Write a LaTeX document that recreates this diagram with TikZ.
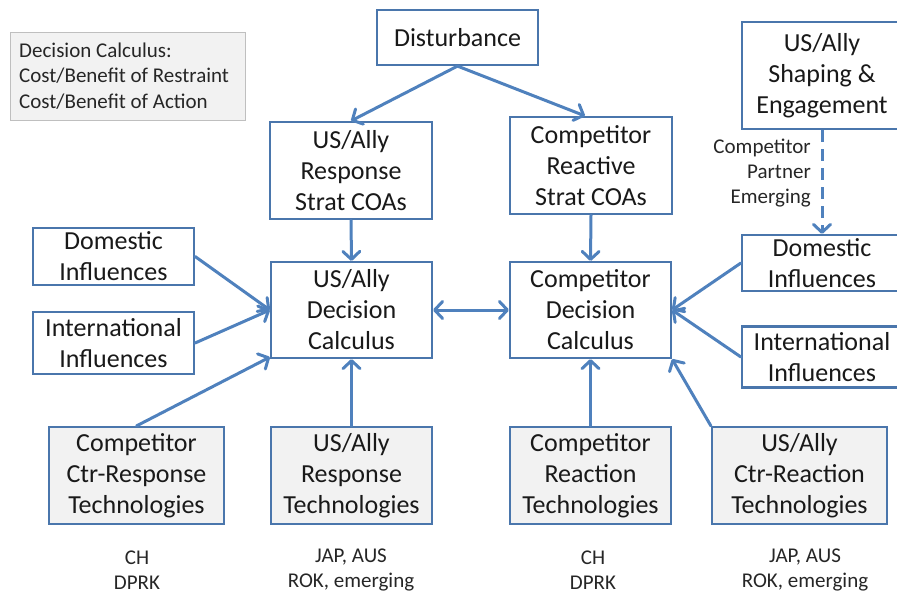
\documentclass[tikz,border=0pt]{standalone}
\usepackage{fontspec}
\setmainfont{Carlito}
\usetikzlibrary{arrows.meta}
\definecolor{boxc}{HTML}{4A76AC}
\definecolor{arrc}{HTML}{4F81BD}
\definecolor{techfill}{HTML}{F2F2F2}
\definecolor{legline}{HTML}{BFBFBF}
\newcommand{\bigtext}{\fontsize{26}{31}\selectfont}
\newcommand{\smalltext}{\fontsize{21}{25.2}\selectfont}
\tikzset{
  box/.style={draw=boxc, line width=2.2, fill=white, align=center,
    inner sep=0, font=\bigtext, text=black!90},
  techbox/.style={box, fill=techfill},
  legbox/.style={draw=legline, line width=1, fill=techfill, inner sep=0,
    font=\smalltext, text=black!85},
  note/.style={inner sep=0, font=\smalltext, align=center, text=black!85},
  arr/.style={draw=arrc, line width=3, line cap=round,
    -{Straight Barb[length=8,width=17,line cap=round,round]}},
  dblarr/.style={arr, {Straight Barb[length=8,width=17,line cap=round,round]}-{Straight Barb[length=8,width=17,line cap=round,round]}}
}
\begin{document}
\begin{tikzpicture}[x=1pt,y=-1pt]
\path[use as bounding box, clip] (0,0) rectangle (897,594);

% legend
\node[legbox, minimum width=235, minimum height=87] (leg) at (127.5,76.5) {};
\node[note, align=left, anchor=west] (legtxt) at (19,76)
  {Decision Calculus:\\Cost/Benefit of Restraint\\Cost/Benefit of Action};

% top row
\node[box, minimum width=161, minimum height=55] (dist) at (457.5,37.5) {Disturbance};
\node[box, minimum width=162, minimum height=97] (usresp) at (351,170.5)
  {US/Ally\\Response\\Strat COAs};
\node[box, minimum width=162, minimum height=97] (compreact) at (591,165.5)
  {Competitor\\Reactive\\Strat COAs};
\node[box, minimum width=160, minimum height=107] (shape) at (822,75.5)
  {US/Ally\\Shaping \&\\Engagement};

% influences
\node[box, minimum width=161, minimum height=57] (domL) at (113.5,256.5)
  {Domestic\\Influences};
\node[box, minimum width=161, minimum height=62] (intL) at (113.5,343)
  {International\\Influences};
\node[box, minimum width=160, minimum height=56] (domR) at (822,263)
  {Domestic\\Influences};
\node[box, minimum width=160, minimum height=61] (intR) at (822,357)
  {International\\Influences};

% decision calculus
\node[box, minimum width=161, minimum height=96] (usdec) at (351.5,310)
  {US/Ally\\Decision\\Calculus};
\node[box, minimum width=161, minimum height=96] (compdec) at (590.5,310)
  {Competitor\\Decision\\Calculus};

% technologies
\node[techbox, minimum width=175, minimum height=97] (ctrresp) at (136.5,475.5)
  {Competitor\\Ctr-Response\\Technologies};
\node[techbox, minimum width=161, minimum height=97] (usresptech) at (351.5,475.5)
  {US/Ally\\Response\\Technologies};
\node[techbox, minimum width=161, minimum height=97] (compreacttech) at (590.5,475.5)
  {Competitor\\Reaction\\Technologies};
\node[techbox, minimum width=175, minimum height=97] (usctr) at (799.5,475.5)
  {US/Ally\\Ctr-Reaction\\Technologies};

% country notes
\node[note] (n1) at (137,570) {CH\\DPRK};
\node[note] (n2) at (351,570) {JAP, AUS\\ROK, emerging};
\node[note] (n3) at (593,570) {CH\\DPRK};
\node[note] (n4) at (805,570) {JAP, AUS\\ROK, emerging};
\node[note, align=right, anchor=east] (shapenote) at (811,173)
  {Competitor\\Partner\\Emerging};

% connectors
\draw[arr] (dist.south) -- (usresp.north);
\draw[arr] (dist.south) -- ([xshift=-6]compreact.north);
\draw[arr] (usresp.south) -- (usdec.north);
\draw[arr] (compreact.south) -- (compdec.north);
\draw[arr, dash pattern=on 12 off 7, line cap=butt] (shape.south) -- (domR.north);
\draw[arr] (domL.east) -- (usdec.west);
\draw[arr] (intL.east) -- (usdec.west);
\draw[arr] (ctrresp.north) -- ([yshift=2]usdec.south west);
\draw[arr] (usresptech.north) -- (usdec.south);
\draw[dblarr] (usdec.east) -- (compdec.west);
\draw[arr] (domR.west) -- (compdec.east);
\draw[arr] (intR.west) -- (compdec.east);
\draw[arr] (compreacttech.north) -- (compdec.south);
\draw[arr] (usctr.north west) -- (compdec.south east);
\end{tikzpicture}
\end{document}
